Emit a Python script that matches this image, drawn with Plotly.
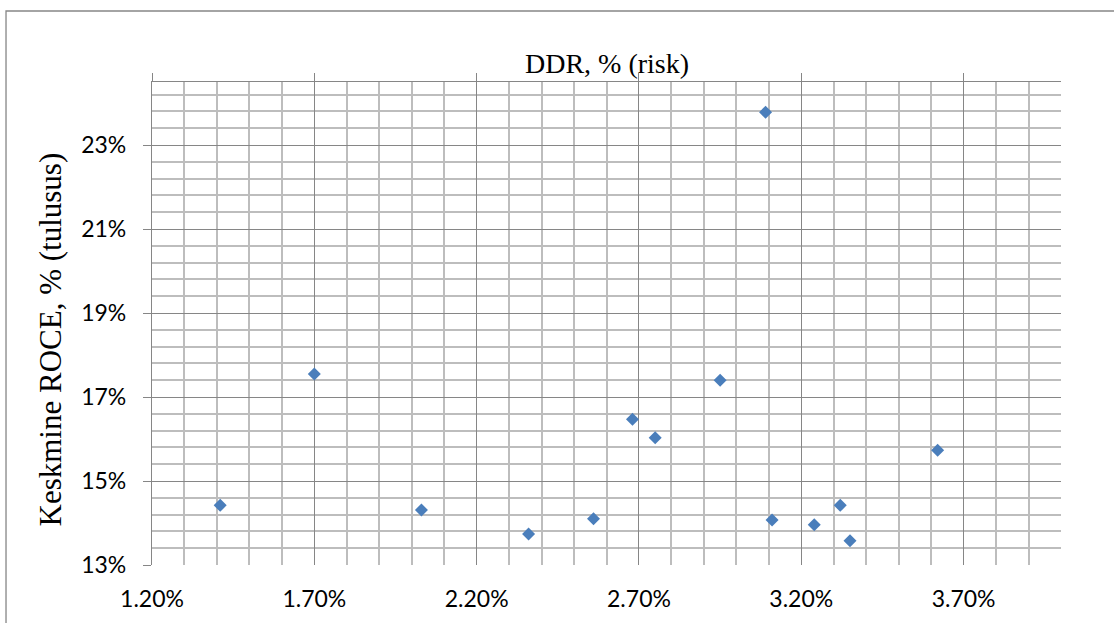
import plotly.graph_objects as go

# Data (values in %)
ddr_risk = [1.41, 1.70, 2.03, 2.36, 2.56, 2.68, 2.75, 2.95, 3.09, 3.11, 3.24, 3.32, 3.35, 3.62]
roce_return = [14.42, 17.55, 14.31, 13.74, 14.10, 16.47, 16.03, 17.40, 23.78, 14.07, 13.96, 14.42, 13.58, 15.73]

x_range = [1.2, 4.0]
y_range = [13.0, 24.5]
x_major = 0.5
x_minor = 0.1
y_major = 2.0
y_minor = 0.4

MAJOR = "#868686"
MINOR = "#bdbdbd"
TICKFONT = dict(family="Lato, Carlito, Liberation Sans, sans-serif", size=23, color="black")
SERIF = "Liberation Serif, Times New Roman, serif"

fig = go.Figure()
fig.add_trace(go.Scatter(
    x=ddr_risk, y=roce_return, mode="markers",
    marker=dict(symbol="diamond", size=10, color="#4a7ebb", line=dict(width=0)),
    showlegend=False, hoverinfo="x+y",
))
# invisible copy on the top axis so that it is drawn
fig.add_trace(go.Scatter(
    x=ddr_risk, y=roce_return, mode="markers", xaxis="x2",
    marker=dict(opacity=0), showlegend=False, hoverinfo="skip",
))

fig.update_layout(
    width=1114, height=623,
    margin=dict(l=152, r=53, t=82, b=58, autoexpand=False),
    paper_bgcolor="white", plot_bgcolor="white",
    xaxis=dict(
        range=x_range, tickmode="linear", tick0=x_range[0], dtick=x_major,
        tickformat=".2f", ticksuffix="%", tickfont=TICKFONT,
        showgrid=True, gridcolor=MAJOR, gridwidth=1.3,
        minor=dict(tickmode="linear", tick0=x_range[0], dtick=x_minor,
                   showgrid=True, gridcolor=MINOR, gridwidth=1.5),
        showline=True, linecolor="white", linewidth=2,
        ticks="", zeroline=False, ticklabelstandoff=12, automargin=False,
    ),
    xaxis2=dict(
        range=x_range, overlaying="x", side="top", anchor="y",
        tickmode="linear", tick0=x_range[0], dtick=x_major,
        showticklabels=False, showgrid=False, zeroline=False,
        ticks="outside", ticklen=8, tickcolor=MAJOR, tickwidth=1.3,
        showline=True, linecolor=MAJOR, linewidth=1.3, automargin=False,
    ),
    yaxis=dict(
        range=y_range, tickmode="linear", tick0=y_range[0], dtick=y_major,
        tickformat=".0f", ticksuffix="%", tickfont=TICKFONT,
        showgrid=True, gridcolor=MAJOR, gridwidth=1.3,
        minor=dict(tickmode="linear", tick0=y_range[0], dtick=y_minor,
                   showgrid=True, gridcolor=MINOR, gridwidth=1.5),
        showline=True, linecolor=MAJOR, linewidth=1.3,
        ticks="outside", ticklen=8, tickcolor=MAJOR, tickwidth=1.3,
        zeroline=False, ticklabelstandoff=12, automargin=False,
    ),
    annotations=[
        dict(text="DDR, % (risk)", xref="paper", yref="paper", x=0.5, y=1.039,
             xanchor="center", yanchor="middle", showarrow=False,
             font=dict(family=SERIF, size=28, color="black")),
        dict(text="Keskmine ROCE, % (tulusus)", xref="paper", yref="paper",
             x=-0.1122, y=0.467, xanchor="center", yanchor="middle", textangle=-90,
             showarrow=False, font=dict(family=SERIF, size=31, color="black")),
    ],
    shapes=[
        dict(type="rect", xref="paper", yref="paper", x0=-0.1606, x1=1.3, y0=-0.3, y1=1.147,
             line=dict(color=MAJOR, width=1.3), fillcolor="rgba(0,0,0,0)", layer="below"),
    ],
)

fig.write_html("out.html")
